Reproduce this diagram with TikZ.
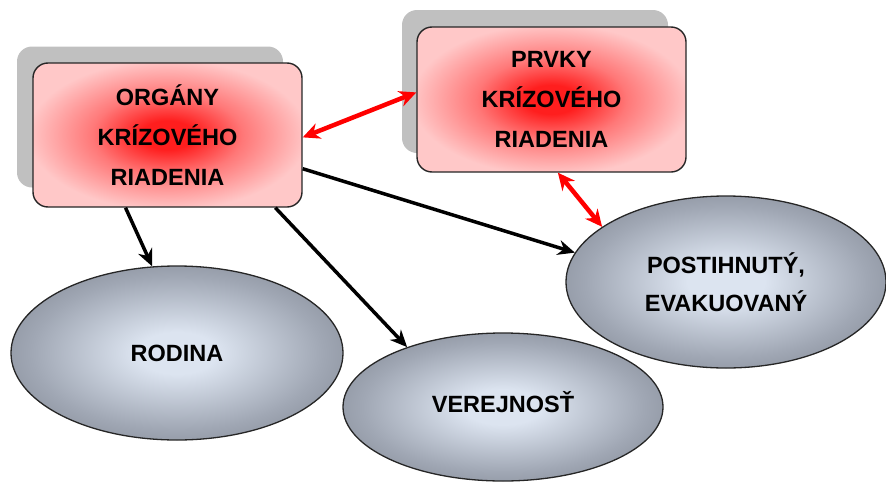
\documentclass[tikz,border=0pt]{standalone}
\usepackage{fontspec}
\setmainfont{Liberation Sans}
\usetikzlibrary{shapes.geometric,arrows.meta}
\definecolor{pinkout}{RGB}{255,200,200}
\definecolor{redin}{RGB}{255,30,30}
\definecolor{redmid}{RGB}{255,120,120}
\definecolor{ellin}{RGB}{220,228,240}
\definecolor{ellmid}{RGB}{160,167,180}
\definecolor{ellout}{RGB}{118,124,135}
\definecolor{shadowgrey}{RGB}{192,192,192}
\pgfdeclareradialshading{boxshade}{\pgfpoint{0bp}{0bp}}{color(0bp)=(redin); color(5bp)=(redin); color(14bp)=(redmid); color(26bp)=(pinkout); color(50bp)=(pinkout)}
\pgfdeclareradialshading{ellshade}{\pgfpoint{0bp}{0bp}}{color(0bp)=(ellin); color(6bp)=(ellin); color(22bp)=(ellmid); color(36bp)=(ellout); color(50bp)=(ellout)}
\tikzset{
  txt/.style={font=\fontsize{23.5}{40}\selectfont\bfseries, align=center, text=black},
  boxnode/.style={txt, rectangle, rounded corners=15pt, draw=black!85, line width=1.4pt, shading=boxshade, minimum width=269pt, minimum height=144pt, inner sep=0pt},
  shadownode/.style={rectangle, rounded corners=15pt, fill=shadowgrey, minimum width=266pt, minimum height=141pt, inner sep=0pt},
  ellnode/.style={txt, ellipse, draw=black!85, line width=1.3pt, shading=ellshade, inner sep=0pt},
  blk/.style={draw=black, line width=3.5pt, -{Stealth[length=17pt,width=15pt]}},
  redarr/.style={draw=red, line width=4.5pt, {Stealth[length=17pt,width=16pt]}-{Stealth[length=17pt,width=16pt]}}
}
\begin{document}
\begin{tikzpicture}[x=1pt,y=-1pt]
\useasboundingbox (0,0) rectangle (886,482);
% shadows
\node[shadownode] (sh1) at (150,117) {};
\node[shadownode, minimum height=143pt] (sh2) at (535,81.5) {};
% boxes
\node[boxnode] (box1) at (167.5,135) {ORGÁNY\\KRÍZOVÉHO\\RIADENIA};
\node[boxnode, minimum height=145pt] (box2) at (551.5,99.5) {PRVKY\\KRÍZOVÉHO\\RIADENIA};
% ellipses
\node[ellnode, minimum width=332pt, minimum height=174pt] (rod) at (177,353) {\raisebox{-3pt}{RODINA}};
\node[ellnode, minimum width=320pt, minimum height=148pt] (ver) at (503,407) {\raisebox{10pt}{VEREJNOSŤ}};
\node[ellnode, minimum width=320pt, minimum height=172pt, font=\fontsize{23.5}{38}\selectfont\bfseries] (post) at (726,282) {POSTIHNUTÝ,\\EVAKUOVANÝ};
% connectors
\draw[blk] ([xshift=-42pt]box1.south) -- (rod.106);
\draw[blk] (box1.-34) -- (ver.148);
\draw[blk] (box1.-14.6) -- (post.169);
\draw[redarr] (box1.-1.7) -- (box2.177);
\draw[redarr] (box2.-85) -- (post.156);
\end{tikzpicture}
\end{document}
